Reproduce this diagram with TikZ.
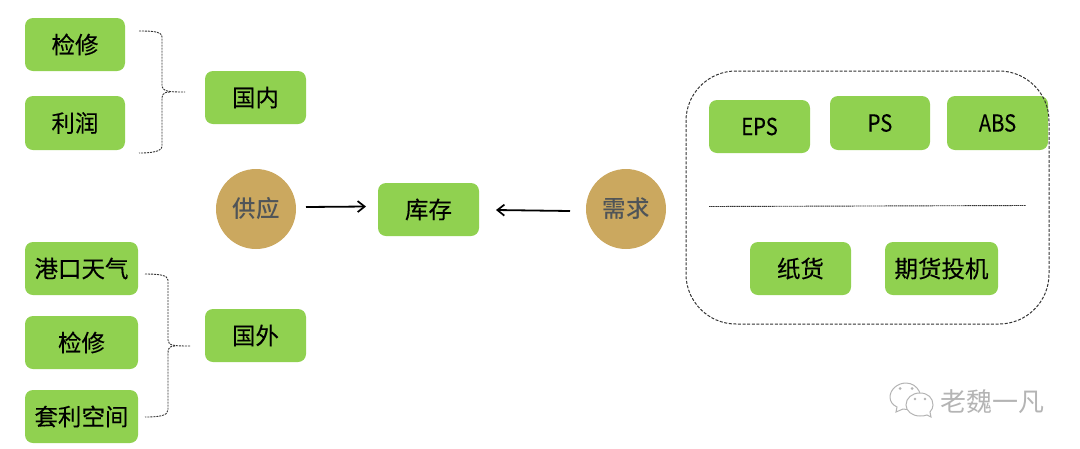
\documentclass[tikz,border=0pt]{standalone}
\usepackage{fontspec}
\usepackage{graphicx}
\setmainfont{Noto Sans CJK SC}[BoldFont={Noto Sans CJK SC},BoldFeatures={FakeBold=0.2}]
\newfontfamily\circfont{Noto Sans CJK SC Medium}
\usetikzlibrary{arrows.meta}
\definecolor{boxgreen}{HTML}{90D150}
\definecolor{circtan}{HTML}{CBA85F}
\definecolor{circtext}{HTML}{4F5458}
\definecolor{dashgray}{HTML}{333333}
\definecolor{markgray}{HTML}{B4B4B4}
\tikzset{
  x=1pt,y=-1pt,
  gbox/.style={draw=none,fill=boxgreen,rounded corners=8pt,inner sep=0pt,text=black,font=\fontsize{23.5}{23.5}\selectfont\bfseries},
  tancirc/.style={circle,fill=circtan,draw=none,minimum size=80pt,inner sep=0pt,text=circtext,font=\fontsize{23.5}{23.5}\selectfont\circfont},
  bracket/.style={draw=dashgray,line width=0.9pt,dash pattern=on 2pt off 1pt},
  flow/.style={draw=black,line width=1.8pt,-{Straight Barb[length=7pt,width=11pt,line width=1.7pt]}},
  bubble/.style={draw=markgray,line width=1pt,fill=white},
  dot/.style={fill=markgray,draw=none}
}
\newcommand{\gb}[6]{\node[gbox,minimum width=#3pt-#2pt,minimum height=#5pt-#4pt] (#1) at ({(#2+#3)/2},{(#4+#5)/2}) {#6};}
\newcommand{\nar}[1]{\scalebox{0.86}[1]{#1}}
\begin{document}
\begin{tikzpicture}
\useasboundingbox (0,0) rectangle (1080,448);
\gb{jx}{25}{125}{18}{71}{检修}
\gb{lr}{25}{125}{96}{150}{利润}
\gb{gn}{205}{306}{71}{124}{国内}
\gb{gk}{25}{138}{242}{295}{港口天气}
\gb{jy}{25}{138}{316}{369}{检修}
\gb{tl}{25}{138}{390}{443}{套利空间}
\gb{gw}{205}{306}{309}{362}{国外}
\gb{kc}{378}{479}{183}{236}{库存}
\gb{eps}{709}{810}{100}{153}{\nar{EPS}}
\gb{ps}{830}{930}{96}{150}{\nar{PS}}
\gb{abs}{947}{1048}{96}{150}{\nar{ABS}}
\gb{zh}{750}{851}{242}{295}{纸货}
\gb{qh}{885}{998}{242}{295}{期货投机}
\node[tancirc] (gy) at (256,209) {供应};
\node[tancirc] (xq) at (626,209) {需求};
% container
\node[draw=dashgray,line width=1pt,dash pattern=on 3pt off 1.6pt,rounded corners=50pt,minimum width=363pt,minimum height=253pt,inner sep=0pt] (box) at (867.5,197.5) {};
\coordinate (dl) at (709,206.5);
\coordinate (dr) at (1026,205.5);
\draw[draw=dashgray,line width=0.9pt,dash pattern=on 1.5pt off 0.6pt] (dl) -- (dr);
% arrows
\coordinate (a1s) at (306,207);
\coordinate (a1e) at (366,206.5);
\coordinate (a2s) at (570,211);
\coordinate (a2e) at (496,210);
\draw[flow] (a1s) -- (a1e);
\draw[flow] (a2s) -- (a2e);
% braces
\draw[bracket] (139,31) .. controls (150,31) and (162,31) .. (162,37) -- (162,85) .. controls (162,92) and (170,92) .. (185,92);
\draw[bracket] (170,92) .. controls (162,92) and (162,96) .. (162,100) -- (162,146) .. controls (162,152) and (150,153) .. (139,153);
\draw[bracket] (145,274) .. controls (158,274) and (168,275) .. (168,280) -- (168,340) .. controls (168,346) and (175,346) .. (191,346);
\draw[bracket] (175,346) .. controls (168,346) and (168,350) .. (168,354) -- (168,410) .. controls (168,416) and (158,417) .. (145,417);
% watermark
\draw[bubble] (906,383) .. controls (897,383) and (890,390) .. (890,397) .. controls (890,402) and (893,405) .. (897,407) -- (896,412) -- (903,409) .. controls (908,410) and (915,410) .. (918,406) .. controls (925,397) and (918,383) .. (906,383) -- cycle;
\fill[dot] (900,388.5) circle (1.5pt) (912,388.5) circle (1.5pt);
\draw[bubble] (920,393) .. controls (912,393) and (906,398) .. (906,405) .. controls (906,411) and (912,416) .. (920,416) .. controls (922,416) and (925,416) .. (927,415) -- (931,417) -- (930,412) .. controls (932,410) and (933,407) .. (933,405) .. controls (933,398) and (928,393) .. (920,393) -- cycle;
\fill[dot] (915,399) circle (1.3pt) (925,399) circle (1.3pt);
\node[text=markgray,font=\fontsize{26}{26}\selectfont,inner sep=0pt] (wm) at (992.5,402) {老魏一凡};
\end{tikzpicture}
\end{document}
